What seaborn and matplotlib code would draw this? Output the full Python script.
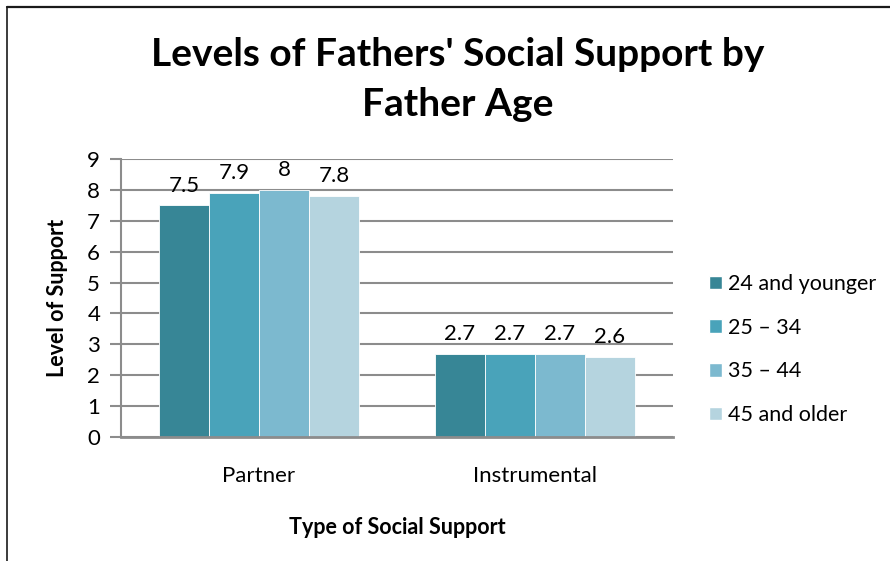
import matplotlib
matplotlib.use("Agg")
import matplotlib.pyplot as plt
import seaborn as sns
import pandas as pd
from matplotlib.patches import Rectangle
from matplotlib.lines import Line2D

# Data
support_types = ["Partner", "Instrumental"]
age_groups = ["24 and younger", "25 \u2013 34", "35 \u2013 44", "45 and older"]
values_24_younger = [7.5, 2.7]
values_25_34 = [7.9, 2.7]
values_35_44 = [8.0, 2.7]
values_45_older = [7.8, 2.6]
colors = ["#378696", "#49A3BA", "#7CB9CF", "#B5D4DF"]

series = [values_24_younger, values_25_34, values_35_44, values_45_older]
rows = []
for grp, vals in zip(age_groups, series):
    for st, v in zip(support_types, vals):
        rows.append({"Type": st, "Age": grp, "Value": v})
df = pd.DataFrame(rows)

sns.set_theme(style="white")
plt.rcParams["font.family"] = ["Lato", "DejaVu Sans"]
plt.rcParams["text.color"] = "black"
plt.rcParams["axes.labelcolor"] = "black"
plt.rcParams["xtick.color"] = "black"
plt.rcParams["ytick.color"] = "black"

W, H = 890, 561
fig = plt.figure(figsize=(W / 100, H / 100), dpi=100)

# chart frame (top and left edges)
fig.add_artist(Line2D([7 / W, 1.0], [1 - 7 / H, 1 - 7 / H], transform=fig.transFigure,
                      color="#1a1a1a", lw=1.6))
fig.add_artist(Line2D([7 / W, 7 / W], [0, 1 - 7 / H], transform=fig.transFigure,
                      color="#1a1a1a", lw=1.2))

ax = fig.add_axes([121 / W, 1 - 437 / H, 552 / W, 278 / H])
sns.barplot(data=df, x="Type", y="Value", hue="Age", order=support_types,
            hue_order=age_groups, palette=colors, width=0.725, gap=0,
            saturation=1, edgecolor="white", linewidth=0.6, ax=ax, legend=False)

ax.set_ylim(0, 9)
ax.set_xlim(-0.5, 1.5)
ax.set_yticks(range(0, 10))
ax.yaxis.grid(True, color="#8c8c8c", lw=1.5)
ax.set_axisbelow(True)
for s in ["top", "right"]:
    ax.spines[s].set_visible(False)
ax.spines["left"].set_color("#8c8c8c")
ax.spines["left"].set_linewidth(1.5)
ax.spines["bottom"].set_color("#8c8c8c")
ax.spines["bottom"].set_linewidth(2)
ax.tick_params(axis="y", length=8, width=1.5, color="#8c8c8c", labelcolor="black",
               labelsize=16, pad=7, left=True, direction="out")
ax.tick_params(axis="x", length=0, labelsize=16, pad=21, labelcolor="black")
ax.set_xlabel("Type of Social Support", fontsize=15.5, fontweight="bold", labelpad=22)
ax.set_ylabel("Level of Support", fontsize=15.5, fontweight="bold", labelpad=14)

for cont in ax.containers:
    ax.bar_label(cont, labels=[f"{v:g}" for v in cont.datavalues], padding=7, fontsize=16)

fig.text(458 / W, 1 - 55 / H, "Levels of Fathers' Social Support by", ha="center",
         va="center", fontsize=28, fontweight="bold")
fig.text(458 / W, 1 - 105 / H, "Father Age", ha="center", va="center",
         fontsize=28, fontweight="bold")

handles = [Rectangle((0, 0), 1, 1, facecolor=c) for c in colors]
fig.legend(handles, age_groups, loc="upper left", bbox_to_anchor=(709 / W, 1 - 274 / H),
           frameon=False, fontsize=15.5, handlelength=0.6, handleheight=0.6,
           handletextpad=0.3, labelspacing=1.1, borderaxespad=0, borderpad=0)

fig.savefig("out.png", dpi=100, facecolor="white")
